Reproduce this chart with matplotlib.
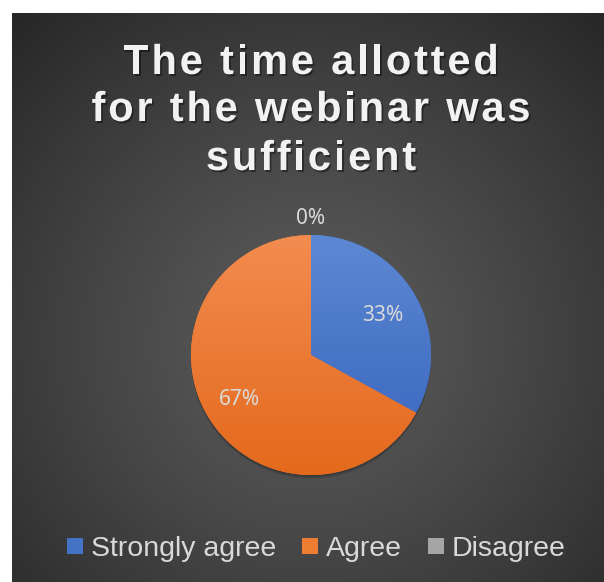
import numpy as np
import matplotlib
matplotlib.use("Agg")
import matplotlib.pyplot as plt
import matplotlib.patheffects as pe
from matplotlib import font_manager, ft2font
from matplotlib.font_manager import FontProperties
from matplotlib.lines import Line2D
from matplotlib.patches import Circle

# survey answers (percent of respondents)
categories = ["Strongly agree", "Agree", "Disagree"]
shares = [33, 67, 0]
colors_top = ["#5c88d3", "#f38c50", "#b0b0b0"]
colors_bottom = ["#3763bd", "#e4691c", "#8c8c8c"]
legend_colors = ["#4472c4", "#ed7d31", "#a5a5a5"]
title_lines = ["The time allotted", "for the webinar was", "sufficient"]

W, H = 604, 582
fig = plt.figure(figsize=(W / 100, H / 100), dpi=100, facecolor="white")

# dark panel with a soft radial glow behind the pie
bg = fig.add_axes([12 / W, 0, (W - 12) / W, (H - 13) / H])
bw, bh = W - 12, H - 13
yy, xx = np.mgrid[0:bh, 0:bw]
d = np.hypot(xx - 299, yy - 327) / 446.0
v = (92 - 54 * np.clip(d, 0, 1.2) ** 1.2) / 255.0
bg.imshow(np.dstack([v, v, v]), aspect="auto", interpolation="bilinear")
bg.set_axis_off()

# title, drawn glyph by glyph so the letters can be spread out
tprop = FontProperties(family="Liberation Sans", weight="bold", size=30)
ft = ft2font.FT2Font(font_manager.findfont(tprop))
ft.set_size(30, 100)

def advance(ch):
    g = ft.load_char(ord(ch), flags=ft2font.LoadFlags.NO_HINTING)
    return g.linearHoriAdvance / 65536

spacing = 2.8
baselines = [74, 121, 170]
shadow = [pe.withSimplePatchShadow(offset=(1.2, -1.5), shadow_rgbFace="black", alpha=0.4)]
for line, base in zip(title_lines, baselines):
    widths = [advance(c) for c in line]
    total = sum(widths) + spacing * (len(line) - 1)
    x = 311 - total / 2
    for c, w in zip(line, widths):
        if c != " ":
            fig.text(x / W, 1 - base / H, c, fontproperties=tprop, color="#f2f2f2",
                     ha="left", va="baseline", path_effects=shadow)
        x += w + spacing

# pie
ax = fig.add_axes([(311 - 150) / W, 1 - (355 + 150) / H, 300 / W, 300 / H])
ax.set_xlim(-1.25, 1.25)
ax.set_ylim(-1.25, 1.25)
ax.set_aspect("equal")
ax.set_axis_off()

# faint drop shadow under the pie
for k, a in [(0.03, 0.10), (0.02, 0.10), (0.01, 0.10)]:
    ax.add_patch(Circle((0.0, -k), 1.0, color="black", alpha=a, lw=0, zorder=0))
wedges, _ = ax.pie(shares, startangle=90, counterclock=False, radius=1,
                   colors=legend_colors, wedgeprops=dict(linewidth=0))

for wdg, ctop, cbot in zip(wedges, colors_top, colors_bottom):
    top = np.array(matplotlib.colors.to_rgb(ctop))
    bot = np.array(matplotlib.colors.to_rgb(cbot))
    t = np.linspace(0, 1, 256)[:, None]
    grad = (top * (1 - t) + bot * t)[:, None, :]
    im = ax.imshow(grad, extent=(-1, 1, -1, 1), aspect="auto", zorder=2)
    im.set_clip_path(wdg)

lprop = dict(family="Noto Sans", size=15, color="#d9d9d9")
for wdg, val in zip(wedges, shares):
    mid = np.deg2rad((wdg.theta1 + wdg.theta2) / 2)
    r = 0.69 if val > 0 else 1.16
    ax.text(r * np.cos(mid), r * np.sin(mid) - 0.02, f"{val}%", ha="center", va="center",
            zorder=5, **lprop)

# legend along the bottom
handles = [Line2D([], [], ls="none", marker="s", markersize=11.3, markerfacecolor=c,
                  markeredgewidth=0) for c in legend_colors]
fig.legend(handles, categories, loc="center", bbox_to_anchor=(316 / W, 1 - 549 / H),
           ncol=3, frameon=False, handlelength=0.6, handletextpad=0.25,
           columnspacing=0.9, labelcolor="#d9d9d9",
           prop=dict(family="Liberation Sans", size=20.5))

fig.savefig("out.png", dpi=100, facecolor="white")
